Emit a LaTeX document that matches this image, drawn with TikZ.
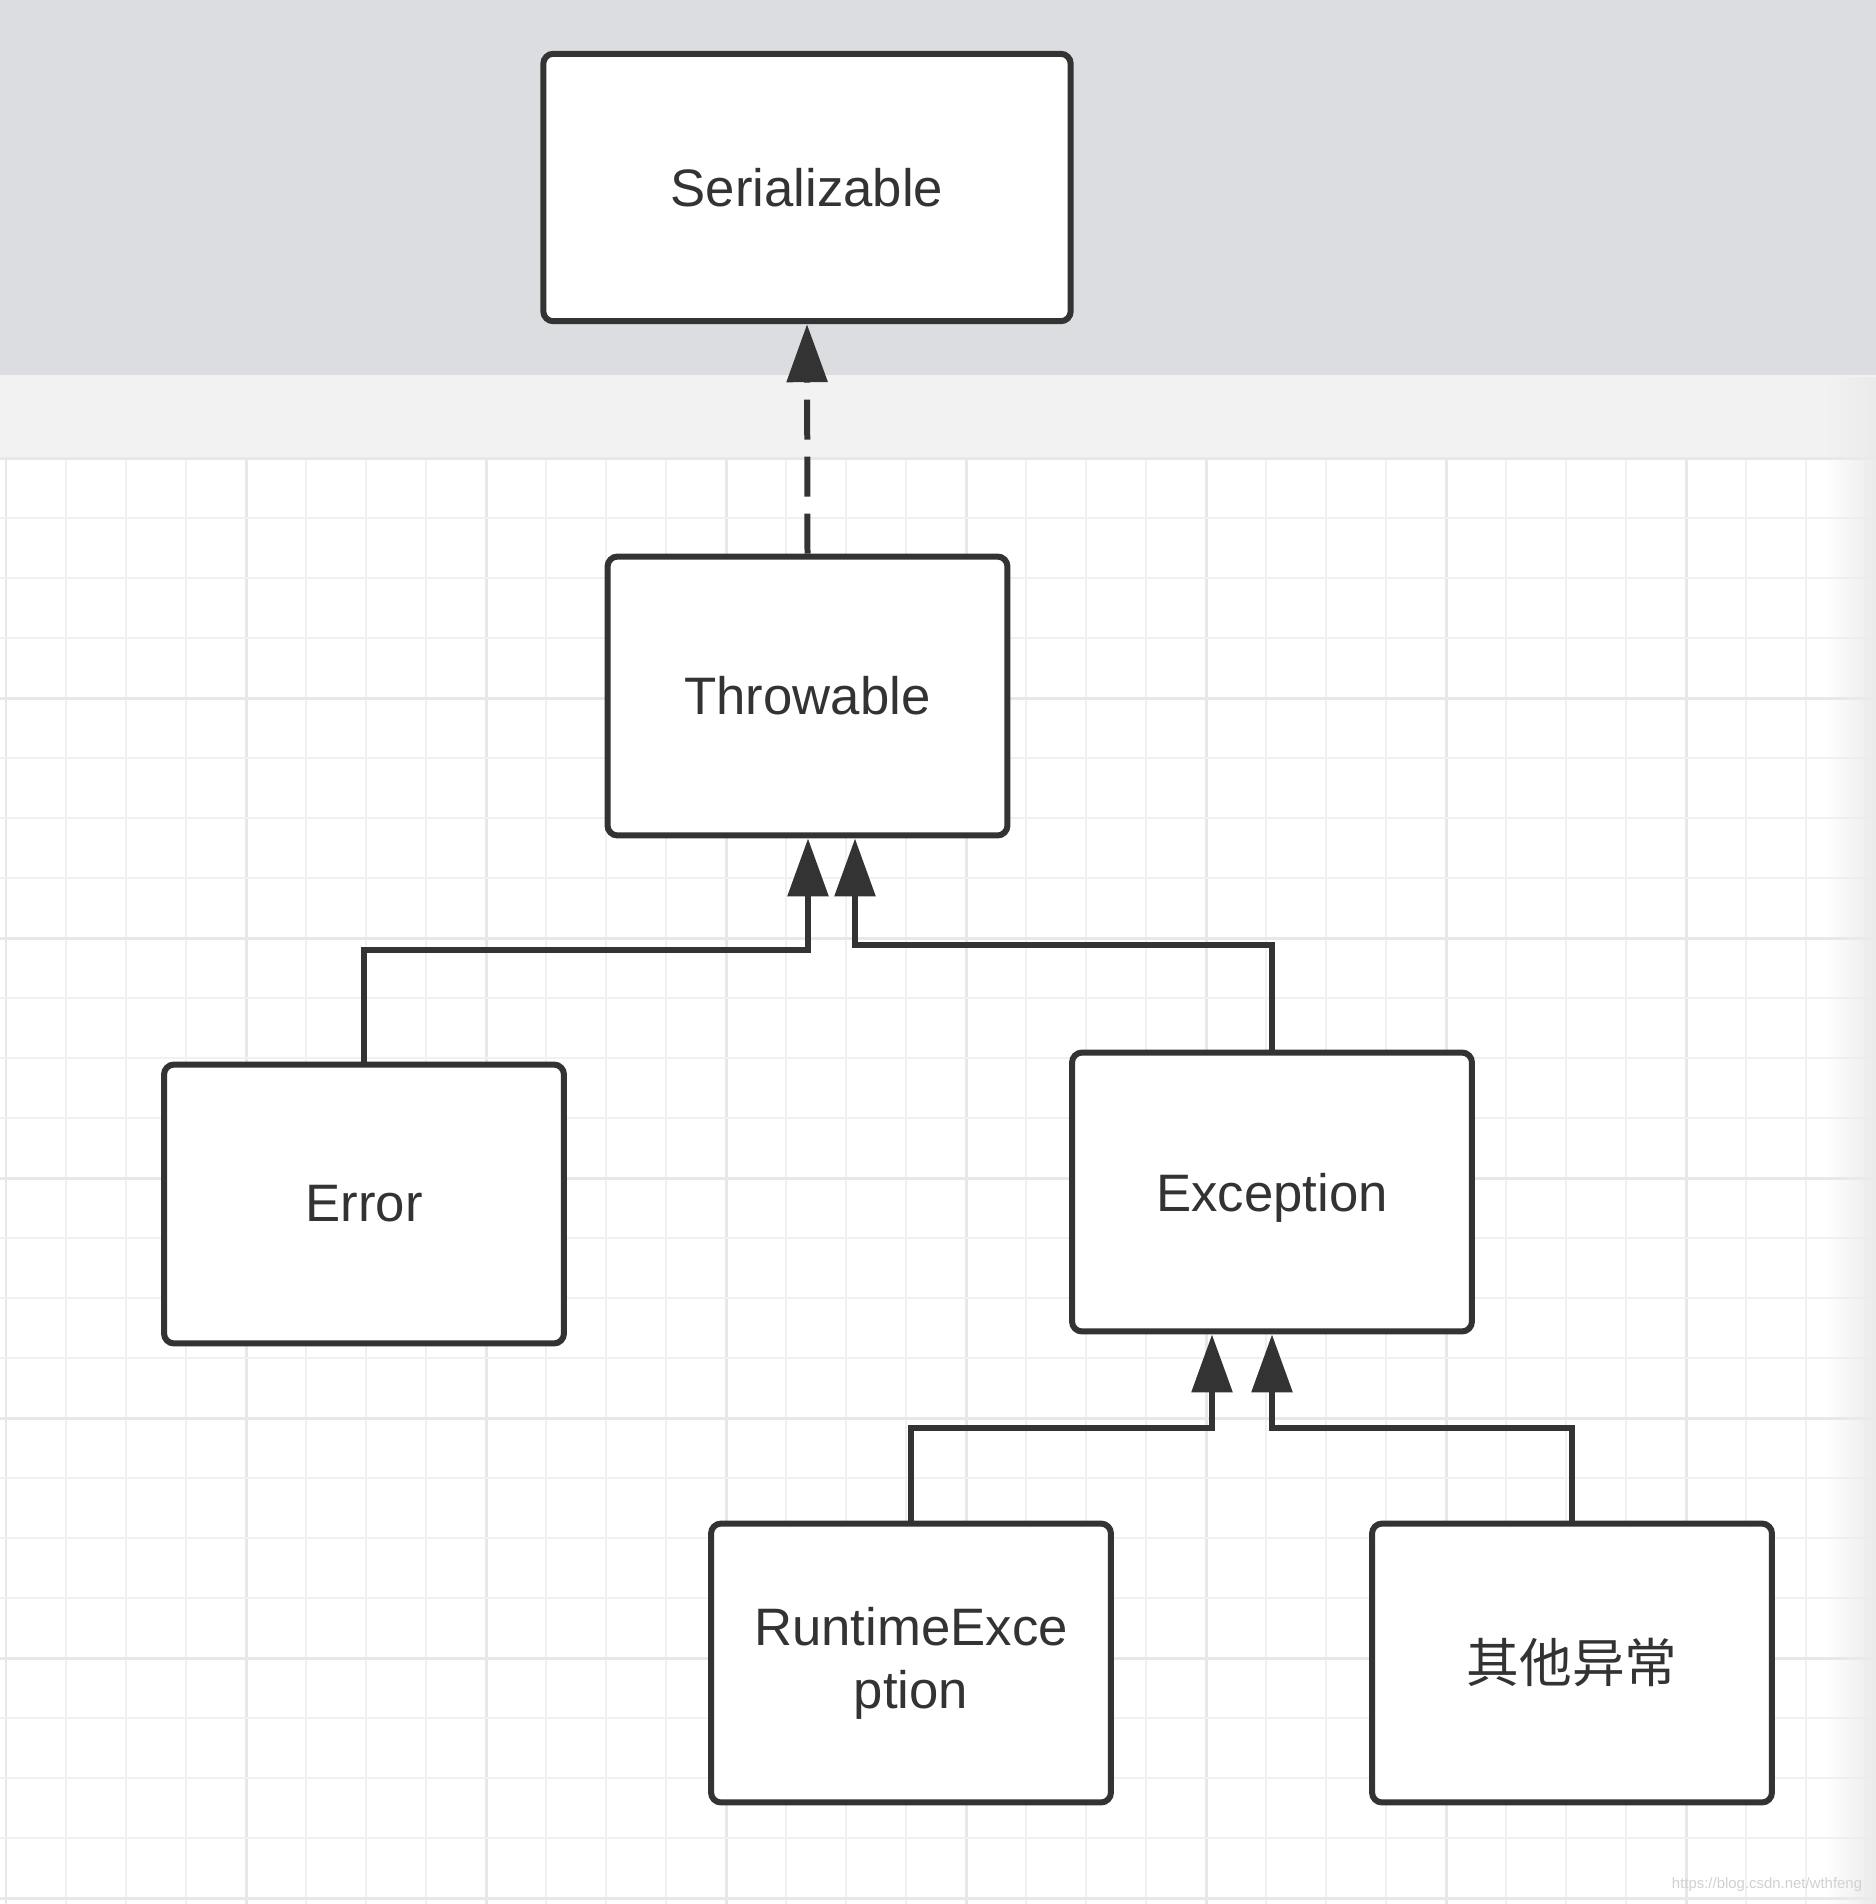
\documentclass[tikz,border=0pt]{standalone}
\usepackage{fontspec}
\setmainfont{Liberation Sans}
\newfontfamily\cjk{Noto Sans CJK SC}
\usetikzlibrary{arrows.meta,fadings}
\definecolor{ink}{HTML}{333333}
\definecolor{band}{RGB}{220,221,225}
\definecolor{lband}{HTML}{F2F2F2}
\definecolor{gminor}{HTML}{F1F1F1}
\definecolor{gmajor}{HTML}{E8E8E8}
\tikzset{
  box/.style={draw=ink, line width=0.12cm, fill=white, rounded corners=0.2cm,
    minimum width=8.0cm, minimum height=5.58cm, align=center, text=ink,
    font=\fontsize{30}{36}\selectfont, inner sep=0pt},
  conn/.style={draw=ink, line width=0.12cm, -{Triangle[length=1.16cm,width=0.8cm]}},
  gridminor/.style={draw=gminor, line width=0.04cm},
  gridmajor/.style={draw=gmajor, line width=0.06cm},
}
\begin{document}
\begin{tikzpicture}[x=0.02cm,y=-0.02cm]
\useasboundingbox (0,0) rectangle (1876,1904);
% backgrounds
\fill[white] (0,0) rectangle (1876,1904);
\fill[band] (0,0) rectangle (1876,375);
\fill[lband] (0,375) rectangle (1876,458);
% grid
\foreach \i in {0,...,31} {
  \pgfmathtruncatemacro{\m}{mod(\i,4)}
  \ifnum\m=0 \draw[gridmajor] (6+60*\i,458) -- (6+60*\i,1904);
  \else \draw[gridminor] (6+60*\i,458) -- (6+60*\i,1904); \fi
}
\foreach \j in {0,...,24} {
  \pgfmathtruncatemacro{\m}{mod(\j,4)}
  \ifnum\m=0 \draw[gridmajor] (0,458+60*\j) -- (1876,458+60*\j);
  \else \draw[gridminor] (0,458+60*\j) -- (1876,458+60*\j); \fi
}
% right edge shadow
\fill[black!8, path fading=west] (1826,375) rectangle (1876,1904);
% nodes
\node[box, minimum width=10.55cm, minimum height=5.35cm] (ser) at (807,187.5) {Serializable};
\node[box] (thr) at (807.5,696) {Throwable};
\node[box] (err) at (364,1204) {Error};
\node[box, text depth=0pt] (exc) at (1272,1192) {Exception};
\node[box] (rte) at (911,1663) {RuntimeExce\\ption};
\node[box] (oth) at (1572,1663) {\cjk 其他异常};
% connectors
\draw[conn, dash pattern=on 0.8cm off 0.34cm] (thr.north) -- (ser.south);
\coordinate (t1) at (808,0);
\coordinate (t2) at (855,0);
\draw[conn] (err.north) |- (t1 |- 0,950) -- (t1 |- thr.south);
\draw[conn] (exc.north) |- (t2 |- 0,945) -- (t2 |- thr.south);
\coordinate (e1) at (1212,0);
\coordinate (e2) at (1272,0);
\draw[conn] (rte.north) |- (e1 |- 0,1428) -- (e1 |- exc.south);
\draw[conn] (oth.north) |- (e2 |- 0,1428) -- (e2 |- exc.south);
% watermark
\node[text=black!18, font=\fontsize{8.5}{10}\selectfont, inner sep=0pt] (wm) at (1767,1885) {https://blog.csdn.net/wthfeng};
\end{tikzpicture}
\end{document}
